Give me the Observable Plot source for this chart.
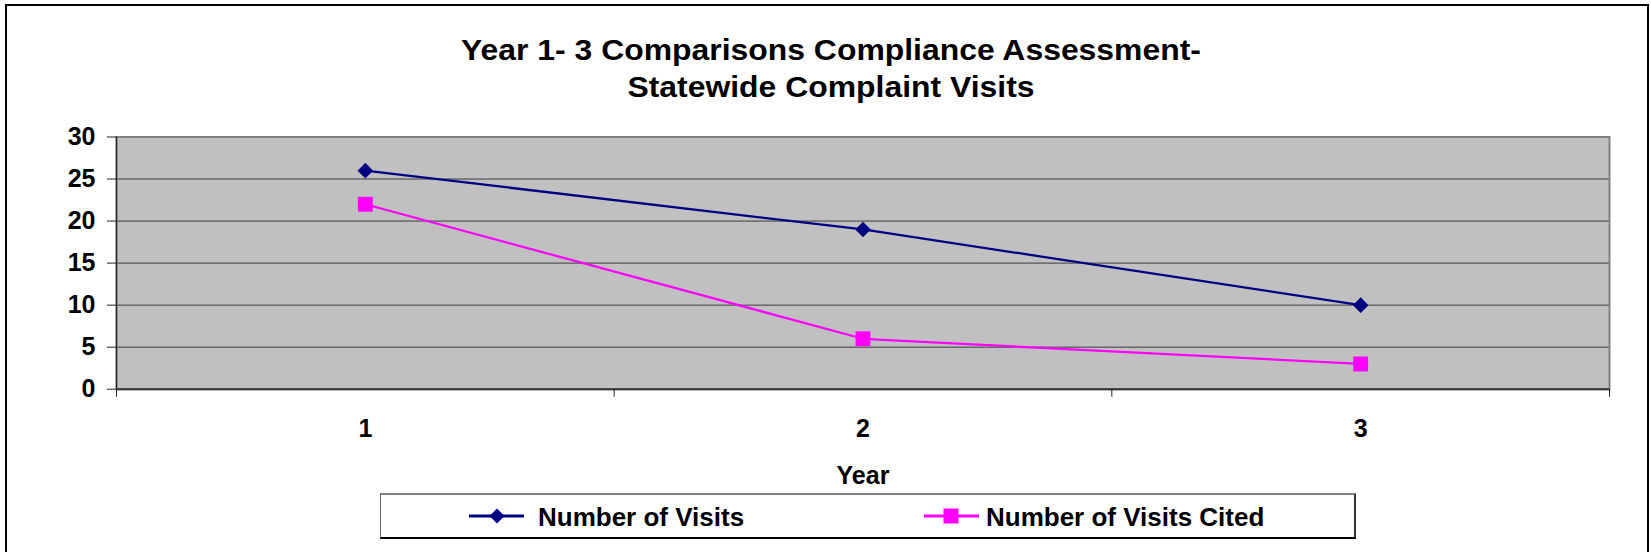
<!DOCTYPE html>
<html>
<head>
<meta charset="utf-8">
<script src="https://cdn.jsdelivr.net/npm/d3@7"></script>
<script src="https://cdn.jsdelivr.net/npm/@observablehq/plot@0.6"></script>
<style>
  html, body { margin: 0; padding: 0; background: #fff; overflow: hidden; }
  #page { position: relative; width: 1651px; height: 552px; overflow: hidden;
          font-family: "Liberation Sans", Arial, sans-serif; font-weight: bold; color: #000; }
  #border { position: absolute; left: 5px; top: 4px; width: 1644px; height: 700px;
            border: 2px solid #000; box-sizing: border-box; }
  #title { position: absolute; left: 331px; top: 31.5px; width: 1000px; text-align: center;
           font-size: 29px; line-height: 37px; transform: scaleX(1.1); transform-origin: 50% 0; }
  #chart { position: absolute; left: 0; top: 120px; }
  #legend { position: absolute; left: 380px; top: 493px; width: 976px; height: 46px; box-sizing: border-box;
            background: #fff; border-top: 2px solid #808080; border-left: 1px solid #666;
            border-right: 2px solid #333; border-bottom: 2px solid #000; }
  .item { position: absolute; top: 9px; font-size: 26px; line-height: 26px; white-space: nowrap; }
  .sw { position: absolute; top: 10.7px; }
</style>
</head>
<body>
<div id="page">
  <div id="border"></div>
  <div id="title"></div>
  <div id="chart"></div>
  <div id="legend"></div>
</div>
<script>
// ---- data ----
const titleLines = ["Year 1- 3 Comparisons Compliance Assessment-", "Statewide Complaint Visits"];
const years = [1, 2, 3];
const visits = [26, 19, 10];
const visitsCited = [22, 6, 3];
const seriesNames = ["Number of Visits", "Number of Visits Cited"];
const seriesColors = ["#000080", "#FF00FF"];
const seriesSymbols = ["diamond2", "square"];
const yTicks = [0, 5, 10, 15, 20, 25, 30];
const gridTicks = [5, 10, 15, 20, 25];
const xBoundaries = [0.5, 1.5, 2.5, 3.5];
const xAxisLabel = "Year";

// ---- build table ----
const rows = [];
[visits, visitsCited].forEach((vals, s) => {
  years.forEach((yr, i) => rows.push({year: yr, value: vals[i], series: seriesNames[s]}));
});

document.getElementById("title").innerHTML = titleLines.map(t => `<div>${t}</div>`).join("");

const font = "'Liberation Sans', Arial, sans-serif";
const chart = Plot.plot({
  width: 1651,
  height: 370,
  marginTop: 16.5,
  marginBottom: 101.3,
  marginLeft: 116,
  marginRight: 42,
  style: {background: "transparent", fontFamily: font, color: "#000", overflow: "visible"},
  x: {domain: [xBoundaries[0], xBoundaries[xBoundaries.length - 1]]},
  y: {domain: [yTicks[0], yTicks[yTicks.length - 1]]},
  color: {domain: seriesNames, range: seriesColors},
  symbol: {domain: seriesNames, range: seriesSymbols},
  marks: [
    Plot.frame({fill: "#C0C0C0", stroke: null}),
    Plot.ruleY(gridTicks, {stroke: "#3a3a3a", strokeWidth: 1}),
    Plot.frame({stroke: "#808080", strokeWidth: 2}),
    Plot.ruleX([xBoundaries[0]], {stroke: "#222", strokeWidth: 1.2}),
    Plot.ruleY([yTicks[0]], {stroke: "#333", strokeWidth: 2}),
    Plot.line(rows, {x: "year", y: "value", z: "series", stroke: "series", strokeWidth: 2.25}),
    Plot.dot(rows.filter(d => d.series === seriesNames[0]), {x: "year", y: "value", symbol: "series", fill: "series", stroke: null, r: 7}),
    Plot.dot(rows.filter(d => d.series === seriesNames[1]), {x: "year", y: "value", symbol: "series", fill: "series", stroke: null, r: 8.4}),
    Plot.axisY({ticks: yTicks, tickSize: 9, tickPadding: 12, label: null, fontSize: 25, fontWeight: "bold", stroke: "#222", fill: "#000", tickFormat: d3.format("d")}),
    Plot.axisX({ticks: years, tickSize: 0, tickPadding: 29.6, label: null, fontSize: 25, fontWeight: "bold", fill: "#000", tickFormat: d3.format("d")}),
    Plot.axisX({ticks: xBoundaries, tickSize: 8, label: null, stroke: "#222", tickFormat: () => ""}),
    Plot.text([xAxisLabel], {frameAnchor: "bottom", lineAnchor: "top", dy: 77.3, fontSize: 25, fontWeight: "bold", fill: "#000"})
  ]
});
document.getElementById("chart").appendChild(chart);

// ---- legend ----
const legend = document.getElementById("legend");
const swLeft = [88, 543];
const txtLeft = [157, 605];
const mk = [
  `<path d="M28,2.5 L35.5,10 L28,17.5 L20.5,10 Z" fill="${seriesColors[0]}"/>`,
  `<rect x="19.5" y="2.5" width="15" height="15" fill="${seriesColors[1]}"/>`
];
seriesNames.forEach((name, i) => {
  legend.insertAdjacentHTML("beforeend",
    `<svg class="sw" style="left:${swLeft[i]}px" width="56" height="20">
       <line x1="0" y1="10" x2="55" y2="10" stroke="${seriesColors[i]}" stroke-width="3"/>${mk[i]}</svg>
     <div class="item" style="left:${txtLeft[i]}px">${name}</div>`);
});
</script>
</body>
</html>
